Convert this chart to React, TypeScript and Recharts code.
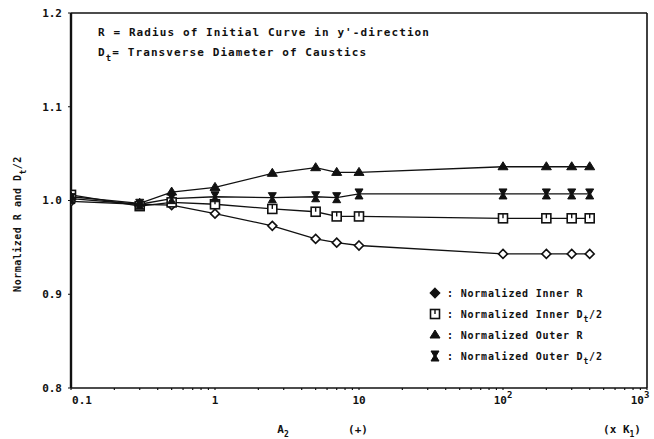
import React from 'react';
import { LineChart, Line, XAxis, YAxis, ReferenceLine } from 'recharts';

// A2 values (x K1)
const xValues = [0.1, 0.3, 0.5, 1, 2.5, 5, 7, 10, 100, 200, 300, 400];

const innerR = [0.999, 0.996, 0.995, 0.986, 0.973, 0.959, 0.955, 0.952, 0.943, 0.943, 0.943, 0.943];
const innerDt = [1.006, 0.994, 0.998, 0.996, 0.991, 0.988, 0.983, 0.983, 0.981, 0.981, 0.981, 0.981];
const outerR = [1.004, 0.997, 1.009, 1.014, 1.029, 1.035, 1.03, 1.03, 1.036, 1.036, 1.036, 1.036];
const outerDt = [1.002, 0.996, 1.002, 1.004, 1.003, 1.004, 1.003, 1.007, 1.007, 1.007, 1.007, 1.007];

const yTicks = [0.8, 0.9, 1.0, 1.1, 1.2];
const majorX = [0.1, 1, 10, 100, 1000];
const xTickLabels = ['0.1', '1', '10', '10', '10'];
const xTickSup = ['', '', '', '2', '3'];

const minorX: number[] = [];
[0.1, 1, 10, 100].forEach((d) => {
  for (let k = 1; k <= 9; k++) minorX.push(+(d * k).toPrecision(3));
});
minorX.push(1000);

const data = xValues.map((x, i) => ({
  x,
  innerR: innerR[i],
  innerDt: innerDt[i],
  outerR: outerR[i],
  outerDt: outerDt[i],
}));

const FONT = '"DejaVu Sans Mono", "Liberation Mono", monospace';
const INK = '#111';

type Kind = 'diamond' | 'square' | 'triangle' | 'hourglass';

function Marker({ kind, cx, cy, legend }: { kind: Kind; cx: number; cy: number; legend?: boolean }) {
  if (kind === 'diamond') {
    return (
      <path
        d={`M${cx},${cy - 4.5} L${cx + 4.5},${cy} L${cx},${cy + 4.5} L${cx - 4.5},${cy} Z`}
        fill={legend ? INK : '#fff'}
        stroke={INK}
        strokeWidth={1.6}
      />
    );
  }
  if (kind === 'square') {
    return (
      <g>
        <rect x={cx - 4.5} y={cy - 4.5} width={9} height={9} fill="#fff" stroke={INK} strokeWidth={1.6} />
        <line x1={cx} y1={cy - 4.5} x2={cx} y2={cy} stroke={INK} strokeWidth={1.4} />
      </g>
    );
  }
  if (kind === 'triangle') {
    return (
      <path
        d={`M${cx},${cy - 5} L${cx + 5},${cy + 3} L${cx - 5},${cy + 3} Z`}
        fill={INK}
        stroke={INK}
        strokeWidth={1}
      />
    );
  }
  return (
    <path
      d={`M${cx - 4},${cy - 5} L${cx + 4},${cy - 5} L${cx + 1},${cy} L${cx + 4},${cy + 5} L${cx - 4},${cy + 5} L${cx - 1},${cy} Z`}
      fill={INK}
      stroke={INK}
      strokeWidth={1}
    />
  );
}

const series: { key: string; kind: Kind; name: string; sub?: string }[] = [
  { key: 'innerR', kind: 'diamond', name: 'Normalized Inner R' },
  { key: 'innerDt', kind: 'square', name: 'Normalized Inner D', sub: 't' },
  { key: 'outerR', kind: 'triangle', name: 'Normalized Outer R' },
  { key: 'outerDt', kind: 'hourglass', name: 'Normalized Outer D', sub: 't' },
];

function XTick(props: any) {
  const { x, y, payload } = props;
  const v = payload.value;
  const idx = majorX.findIndex((m) => Math.abs(m - v) < 1e-9);
  if (idx < 0) return <g />;
  const shift = idx === 0 ? 11 : idx === 4 ? -7 : 0;
  return (
    <text
      x={x + shift}
      y={y + 12}
      textAnchor="middle"
      fontFamily={FONT}
      fontWeight="bold"
      fontSize={11}
      fill={INK}
    >
      {xTickLabels[idx]}
      {xTickSup[idx] && (
        <tspan dy={-6} fontSize={9}>
          {xTickSup[idx]}
        </tspan>
      )}
    </text>
  );
}

export default function App() {
  return (
    <div style={{ position: 'absolute', left: 0, top: 0, width: 654, height: 439, background: '#fff' }}>
      <LineChart width={654} height={439} data={data} margin={{ top: 13, right: 7, left: 0, bottom: 21 }}>
        <XAxis
          dataKey="x"
          type="number"
          scale="log"
          domain={[0.1, 1000]}
          ticks={minorX}
          interval={0}
          allowDataOverflow
          height={30}
          axisLine={{ stroke: INK, strokeWidth: 1.6 }}
          tickLine={{ stroke: INK, strokeWidth: 1.2 }}
          tickSize={2}
          tick={<XTick />}
        />
        <YAxis
          type="number"
          domain={[0.8, 1.2]}
          ticks={yTicks}
          width={71}
          tickFormatter={(v: number) => v.toFixed(1)}
          axisLine={{ stroke: INK, strokeWidth: 2.4 }}
          tickLine={{ stroke: INK }}
          tickSize={3}
          tickMargin={6}
          tick={{ fontFamily: FONT, fontWeight: 'bold', fontSize: 11, fill: INK }}
        />
        <ReferenceLine y={1.2} stroke={INK} strokeWidth={1.4} />
        <ReferenceLine x={1000} stroke={INK} strokeWidth={1.6} />
        {series.map((s) => (
          <Line
            key={s.key}
            dataKey={s.key}
            stroke={INK}
            strokeWidth={1.3}
            isAnimationActive={false}
            dot={(p: any) => <Marker key={`${s.key}-${p.index}`} kind={s.kind} cx={p.cx} cy={p.cy} />}
            activeDot={false}
          />
        ))}
      </LineChart>
      <svg
        width={654}
        height={439}
        style={{ position: 'absolute', left: 0, top: 0, pointerEvents: 'none' }}
        fontFamily={FONT}
        fontWeight="bold"
        fill={INK}
      >
        <text x={98} y={36} fontSize={11} letterSpacing={1.1}>
          R = Radius of Initial Curve in y'-direction
        </text>
        <text x={98} y={56} fontSize={11} letterSpacing={1.1}>
          D
          <tspan dy={5} fontSize={9}>t</tspan>
          <tspan dy={-5}>= Transverse Diameter of Caustics</tspan>
        </text>

        <text
          transform="translate(21,224) rotate(-90)"
          textAnchor="middle"
          fontSize={10}
          letterSpacing={0.5}
        >
          Normalized R and D
          <tspan dy={5} fontSize={8}>t</tspan>
          <tspan dy={-5}>/2</tspan>
        </text>

        <text x={283} y={433} textAnchor="middle" fontSize={11}>
          A
          <tspan dy={4} fontSize={8}>2</tspan>
        </text>
        <text x={358} y={433} textAnchor="middle" fontSize={11}>(+)</text>
        <text x={622} y={433} textAnchor="middle" fontSize={11}>
          (x K
          <tspan dy={4} fontSize={8}>1</tspan>
          <tspan dy={-4}>)</tspan>
        </text>

        {series.map((s, i) => {
          const y = 297 + i * 21;
          return (
            <g key={s.key}>
              <Marker kind={s.kind} cx={435} cy={y - 4} legend />
              <text x={447} y={y} fontSize={10} letterSpacing={0.8}>
                :  {s.name}
                {s.sub && (
                  <>
                    <tspan dy={4} fontSize={8}>{s.sub}</tspan>
                    <tspan dy={-4}>/2</tspan>
                  </>
                )}
              </text>
            </g>
          );
        })}
      </svg>
    </div>
  );
}
